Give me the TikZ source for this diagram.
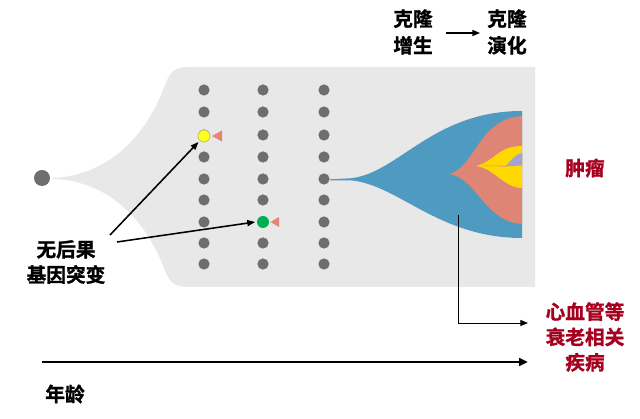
\documentclass[tikz,border=0pt]{standalone}
\usepackage{fontspec}
\newfontfamily\cjk{Noto Sans CJK SC}[BoldFont={* Bold}, BoldFeatures={FakeBold=1.2}]
\usepackage{tikz}
\usetikzlibrary{arrows.meta}
\definecolor{bggrey}{HTML}{E8E8E8}
\definecolor{cellgrey}{HTML}{6E6E6E}
\definecolor{mutyellow}{HTML}{FFFF1A}
\definecolor{mutgreen}{HTML}{00B050}
\definecolor{hitsalmon}{HTML}{E58672}
\definecolor{fishblue}{HTML}{4E9AC0}
\definecolor{fishsalmon}{HTML}{DE8576}
\definecolor{fishyellow}{HTML}{FFD800}
\definecolor{fishpurple}{HTML}{A2A2D4}
\definecolor{tumred}{HTML}{A5001E}

\begin{document}
\begin{tikzpicture}[
    x=0.025cm, y=-0.025cm,
    lbl/.style={font=\cjk\bfseries\fontsize{14pt}{18pt}\selectfont,
                align=center, inner sep=0pt},
    redlbl/.style={lbl, text=tumred},
    cell/.style={circle, fill=cellgrey, inner sep=0pt, minimum size=2.8mm},
    mutcell/.style={circle, inner sep=0pt, minimum size=3mm, line width=0.5pt},
    agearrow/.style={-{Triangle[length=2.2mm,width=1.9mm]}, line width=1.8pt},
    thinarrow/.style={-{Triangle[length=1.9mm,width=1.5mm]}, line width=0.7pt},
    mutarrow/.style={-{Triangle[length=2mm,width=1.5mm]}, line width=1.1pt},
]
\useasboundingbox (0,0) rectangle (640,419);

% --- grey lineage body (trumpet from the zygote cell) ---
\fill[bggrey] (52,178) .. controls (105,176) and (145,140) .. (165,85)
  .. controls (171,69) and (176,67) .. (192,67) -- (535,67) -- (535,287)
  -- (192,287) .. controls (176,287) and (171,285) .. (165,271)
  .. controls (145,216) and (105,180) .. (52,179) -- cycle;

% --- zygote ---
\node[cell, minimum size=4mm] (zygote) at (42,178) {};

% --- cell columns ---
\foreach \x [count=\i] in {204,263,324}
  \foreach \y [count=\j] in {90,112,135,157,179,200,222,243,264}
    \node[cell] (c-\i-\j) at (\x,\y) {};

% --- neutral mutations ---
\node[mutcell, fill=mutyellow, draw=yellow!60!black!70] (mutY) at (204,136) {};
\fill[hitsalmon] (212,136) -- (222,130.5) -- (222,141.5) -- cycle;
\node[mutcell, fill=mutgreen] (mutG) at (263,222) {};
\fill[hitsalmon] (270.5,222) -- (279,217) -- (279,227) -- cycle;

% --- clonal expansion (fish plot) ---
\fill[fishblue] (330,179.3) -- (350,178.3) .. controls (398,174) and (432,111) .. (522,111)
  -- (522,238) .. controls (438,238) and (398,184) .. (350,180.3) -- (330,180.3) -- cycle;
\fill[fishsalmon] (450,174) .. controls (475,166) and (480,118) .. (522,116)
  -- (522,224) .. controls (485,222) and (478,180) .. (450,174) -- cycle;
\fill[fishyellow] (476,166) .. controls (494,162) and (498,146) .. (522,146)
  -- (522,188) .. controls (504,188) and (494,168) .. (476,166) -- cycle;
\draw[fishsalmon, line width=0.4pt] (482,166) .. controls (492,165.5) and (500,166) .. (506,166.5);
\fill[fishpurple] (505,166.5) .. controls (512,160) and (515,154) .. (522,153)
  -- (522,165.5) .. controls (515,165.5) and (510,166.5) .. (505,166.5) -- cycle;

% --- labels ---
\node[lbl] (prolif) at (413,32) {克隆\\[1pt]增生};
\node[lbl] (evol) at (507,32) {克隆\\[1pt]演化};
\node[lbl] (neutral) at (66,262) {无后果\\基因突变};
\node[redlbl] (tumour) at (585,168) {肿瘤};
\node[redlbl] (cvd) at (585,337) {心血管等\\衰老相关\\疾病};
\node[lbl] (age) at (65,394) {年龄};

% --- connectors ---
\coordinate (prolifend) at (446,33);
\coordinate (evolend) at (480,33);
\draw[thinarrow, line width=0.9pt] (prolifend) -- (evolend);

\coordinate (neutralA) at (110,235);
\coordinate (neutralB) at (117,242);
\draw[mutarrow] (neutralA) -- ([shift={(-1,1.5)}]mutY.south west);
\draw[mutarrow] (neutralB) -- ([xshift=-1pt]mutG.west);

\coordinate (bluept) at (458,215);
\coordinate (cvdin) at (528,323);
\draw[thinarrow] (bluept) |- (cvdin);

\coordinate (agestart) at (42,362);
\coordinate (ageend) at (528,362);
\draw[agearrow] (agestart) -- (ageend);
\end{tikzpicture}
\end{document}
